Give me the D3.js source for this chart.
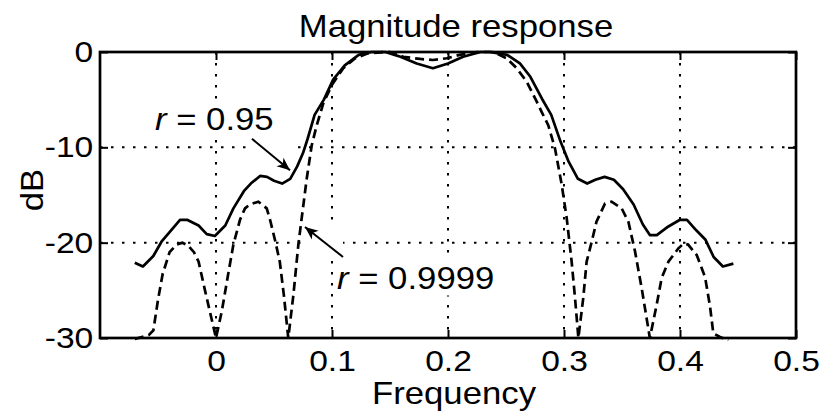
<!DOCTYPE html>
<html lang="en">
<head>
  <meta charset="utf-8">
  <title>Magnitude response</title>
  <style>
    body { margin: 0; background: #fff; }
    svg { display: block; font-family: "Liberation Sans", Arial, Helvetica, sans-serif; }
  </style>
</head>
<body>

  <div id="chart"></div>

<script src="https://cdn.jsdelivr.net/npm/d3@7"></script>
<script>

  ////////////////////////////////////////////////// DATA

  // r = 0.95 (solid)
  var freqSolid = [-0.070,-0.063,-0.054,-0.047,-0.040,-0.031,-0.025,-0.015,-0.008,-0.001,
    0.008,0.015,0.024,0.030,0.038,0.044,0.050,0.057,0.064,0.070,
    0.075,0.079,0.085,0.093,0.101,0.111,0.123,0.134,0.146,0.154,
    0.159,0.173,0.187,0.200,0.213,0.228,0.236,0.251,0.262,0.271,
    0.281,0.289,0.297,0.304,0.312,0.320,0.327,0.335,0.343,0.351,
    0.360,0.368,0.374,0.380,0.390,0.400,0.406,0.414,0.422,0.429,0.437,0.446];
  var dbSolid = [-22.1,-22.5,-21.4,-19.9,-18.9,-17.6,-17.6,-18.2,-19.1,-19.3,
    -18.2,-16.4,-14.6,-13.8,-13.0,-13.1,-13.5,-13.8,-13.3,-12.0,
    -10.6,-9.1,-6.6,-5.0,-2.9,-1.4,-0.3,0,0,-0.3,
    -0.5,-1.2,-1.7,-1.2,-0.5,0,0,-0.3,-1.2,-2.6,
    -4.9,-6.6,-9.4,-11.5,-13.3,-13.8,-13.4,-13.1,-13.4,-14.4,
    -16.0,-18.1,-19.2,-19.2,-18.3,-17.6,-17.6,-18.7,-19.7,-21.5,-22.5,-22.2];

  // r = 0.9999 (dashed)
  var freqDashed = [-0.070,-0.058,-0.054,-0.050,-0.046,-0.040,-0.034,-0.029,-0.024,-0.019,
    -0.015,-0.0095,-0.004,0.000,0.005,0.0105,0.015,0.0207,0.025,0.029,
    0.0365,0.0437,0.0466,0.051,0.055,0.0585,0.0623,0.0667,0.071,0.0739,
    0.0782,0.0825,0.0868,0.0925,0.0997,0.1097,0.120,0.131,0.146,0.150,
    0.1615,0.176,0.187,0.199,0.210,0.225,0.239,0.2506,0.2592,0.2678,
    0.2765,0.2808,0.2865,0.2922,0.298,0.3023,0.3066,0.3095,0.3124,0.3166,
    0.3195,0.3239,0.328,0.3353,0.341,0.3497,0.3555,0.3612,0.367,0.374,
    0.3799,0.3842,0.390,0.3986,0.403,0.407,0.4144,0.4216,0.4259,0.4287,0.4345,0.4417];
  var dbDashed = [-30.1,-29.7,-29.2,-26.0,-23.3,-21.0,-20.2,-20.0,-20.3,-21.0,
    -22.0,-25.0,-27.9,-30,-27.2,-23.3,-20.2,-17.6,-16.4,-16.0,
    -15.7,-16.4,-17.6,-19.8,-22.0,-25.5,-30,-25.5,-20.2,-17.4,
    -13.3,-9.8,-7.7,-5.4,-3.5,-1.7,-0.66,-0.14,0,0,
    -0.5,-0.73,-0.84,-0.66,-0.3,0,0,-0.66,-1.7,-3.1,
    -5.2,-6.3,-7.7,-10.1,-13.9,-17.4,-22.0,-25.8,-30,-25.8,
    -22.0,-19.9,-17.8,-15.9,-15.7,-16.4,-17.8,-20.9,-24.8,-30,
    -26.5,-23.7,-22.0,-20.6,-20.1,-20.2,-21.3,-23.6,-26.7,-29.5,-29.9,-30.2];

  var xTicks = [0, 0.1, 0.2, 0.3, 0.4, 0.5];
  var yTicks = [-30, -20, -10, 0];

  // annotations: label position (start, baseline) and arrow tail -> tip, in data units
  var notes = [
    { label: "0.95",   at: [-0.0526, -8.2],  from: [0.031, -9.1],  to: [0.0638, -12.4] },
    { label: "0.9999", at: [0.1043, -24.85], from: [0.1095, -21.5], to: [0.0767, -18.36] }
  ];

  ////////////////////////////////////////////////// SETUP

  var width = 824, height = 412;
  var margin = {top: 52, right: 28, bottom: 74, left: 100};

  // the source figure's lettering is a little wider than Arial, so text gets stretched in x
  var SX = 1.12;

  var svg = d3.select("#chart").append("svg")
    .attr("width", width)
    .attr("height", height);

  var x = d3.scaleLinear().domain([-0.1, 0.5]).range([margin.left, width - margin.right]);
  var y = d3.scaleLinear().domain([-30, 0]).range([height - margin.bottom, margin.top]);

  var x0 = x.range()[0], x1 = x.range()[1];
  var y0 = y.range()[0], y1 = y.range()[1];

  // grid (dotted)
  var grid = svg.append("g")
    .attr("stroke", "#000")
    .attr("stroke-width", 2)
    .attr("stroke-dasharray", "2.5,8.5");

  grid.selectAll(".vgrid").data(xTicks).enter().append("line")
    .attr("x1", d => x(d)).attr("x2", d => x(d))
    .attr("y1", y1).attr("y2", y0);

  grid.selectAll(".hgrid").data(yTicks).enter().append("line")
    .attr("x1", x0).attr("x2", x1)
    .attr("y1", d => y(d)).attr("y2", d => y(d));

  // white boxes behind annotations (filled once the text is measured)
  var boxes = svg.append("g");

  // curves
  var line = d3.line().x(d => x(d[0])).y(d => y(d[1]));

  svg.append("path")
    .datum(d3.zip(freqDashed, dbDashed))
    .attr("fill", "none")
    .attr("stroke", "#000")
    .attr("stroke-width", 2.7)
    .attr("stroke-dasharray", "9,5")
    .attr("d", line);

  svg.append("path")
    .datum(d3.zip(freqSolid, dbSolid))
    .attr("fill", "none")
    .attr("stroke", "#000")
    .attr("stroke-width", 2.7)
    .attr("stroke-linejoin", "round")
    .attr("d", line);

  // axes (ticks pointing inward)
  var fmt = d => String(d);

  svg.append("g")
    .attr("transform", "translate(0," + y0 + ")")
    .call(d3.axisBottom(x).tickValues(xTicks).tickFormat(fmt).tickSizeInner(-8).tickSizeOuter(0).tickPadding(12))
    .call(styleAxis);

  svg.append("g")
    .attr("transform", "translate(0," + y1 + ")")
    .call(d3.axisTop(x).tickValues(xTicks).tickFormat("").tickSizeInner(-8).tickSizeOuter(0))
    .call(styleAxis);

  svg.append("g")
    .attr("transform", "translate(" + x0 + ",0)")
    .call(d3.axisLeft(y).tickValues(yTicks).tickFormat(fmt).tickSizeInner(-8).tickSizeOuter(0).tickPadding(6))
    .call(styleAxis);

  svg.append("g")
    .attr("transform", "translate(" + x1 + ",0)")
    .call(d3.axisRight(y).tickValues(yTicks).tickFormat("").tickSizeInner(-8).tickSizeOuter(0))
    .call(styleAxis);

  // box
  svg.append("rect")
    .attr("x", x0).attr("y", y1)
    .attr("width", x1 - x0).attr("height", y0 - y1)
    .attr("fill", "none")
    .attr("stroke", "#000")
    .attr("stroke-width", 2.7);

  // titles
  svg.append("text")
    .attr("transform", "translate(456,37) scale(" + SX + ",1)")
    .attr("text-anchor", "middle")
    .attr("font-size", 31)
    .text("Magnitude response");

  svg.append("text")
    .attr("transform", "translate(454,404) scale(" + SX + ",1)")
    .attr("text-anchor", "middle")
    .attr("font-size", 31)
    .text("Frequency");

  svg.append("text")
    .attr("transform", "translate(43," + ((y0 + y1) / 2 - 5) + ") rotate(-90) scale(" + SX + ",1)")
    .attr("text-anchor", "middle")
    .attr("font-size", 31)
    .text("dB");

  // arrow head
  svg.append("defs").append("marker")
    .attr("id", "head")
    .attr("viewBox", "-14 -7 16 14")
    .attr("markerUnits", "userSpaceOnUse")
    .attr("markerWidth", 16).attr("markerHeight", 14)
    .attr("refX", 0).attr("refY", 0)
    .attr("orient", "auto")
    .append("path")
    .attr("d", "M0,0 L-13,-5.5 L-9.5,0 L-13,5.5 Z")
    .attr("fill", "#000");

  notes.forEach(function(n) {
    var ax = x(n.from[0]), ay = y(n.from[1]), bx = x(n.to[0]), by = y(n.to[1]);

    // white box covering the arrow extent
    boxes.append("rect")
      .attr("x", Math.min(ax, bx)).attr("y", Math.min(ay, by))
      .attr("width", Math.abs(bx - ax)).attr("height", Math.abs(by - ay))
      .attr("fill", "#fff");

    svg.append("line")
      .attr("x1", ax).attr("y1", ay).attr("x2", bx).attr("y2", by)
      .attr("stroke", "#000").attr("stroke-width", 2)
      .attr("marker-end", "url(#head)");

    var tx = x(n.at[0]), ty = y(n.at[1]);
    var t = svg.append("text")
      .attr("transform", "translate(" + tx + "," + ty + ") scale(" + SX + ",1)")
      .attr("font-size", 31);
    t.append("tspan").attr("font-style", "italic").text("r");
    t.append("tspan").text(" = " + n.label);

    var bb = t.node().getBBox();
    boxes.append("rect")
      .attr("x", tx + bb.x * SX - 4).attr("y", ty + bb.y)
      .attr("width", bb.width * SX + 8).attr("height", bb.height)
      .attr("fill", "#fff");
  });

  ////////////////////////////////////////////////// FUNCTIONS

  function styleAxis(g) {
    g.select(".domain").remove();
    g.selectAll(".tick line").attr("stroke", "#000").attr("stroke-width", 2);
    g.selectAll(".tick text")
      .attr("fill", "#000")
      .attr("font-size", 30)
      .attr("font-family", "Liberation Sans, Arial, sans-serif")
      .attr("transform", "scale(" + SX + ",1)");
  }

</script>
</body>
</html>
